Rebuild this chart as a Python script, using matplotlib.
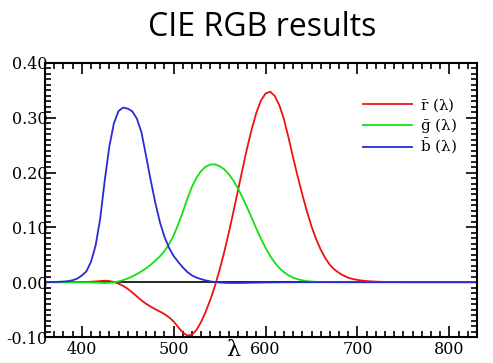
import numpy as np
import matplotlib
matplotlib.use('Agg')
import matplotlib.pyplot as plt
from matplotlib.ticker import MultipleLocator, FormatStrFormatter

# CIE 1931 RGB colour matching functions (5 nm steps)
wavelength = [360, 365, 370, 375,
              380, 385, 390, 395, 400, 405, 410, 415, 420, 425, 430, 435,
              440, 445, 450, 455, 460, 465, 470, 475, 480, 485, 490, 495,
              500, 505, 510, 515, 520, 525, 530, 535, 540, 545, 550, 555,
              560, 565, 570, 575, 580, 585, 590, 595, 600, 605, 610, 615,
              620, 625, 630, 635, 640, 645, 650, 655, 660, 665, 670, 675,
              680, 685, 690, 695, 700, 705, 710, 715, 720, 725, 730, 735,
              740, 745, 750, 760, 770, 780, 800, 830]
r_bar = [0.0, 0.0, 0.00001, 0.00002,
         0.00003, 0.00005, 0.00010, 0.00017, 0.00030, 0.00047, 0.00084, 0.00139,
         0.00211, 0.00266, 0.00218, 0.00036, -0.00261, -0.00673, -0.01213, -0.01874,
         -0.02608, -0.03324, -0.03933, -0.04471, -0.04939, -0.05364, -0.05814, -0.06414,
         -0.07173, -0.08220, -0.09201, -0.09756, -0.09564, -0.08673, -0.07201, -0.05316,
         -0.03152, -0.00613, 0.02279, 0.05514, 0.09060, 0.12840, 0.16768, 0.20715,
         0.24526, 0.27989, 0.30928, 0.33184, 0.34429, 0.34756, 0.33971, 0.32265,
         0.29708, 0.26348, 0.22677, 0.19233, 0.15968, 0.12905, 0.10167, 0.07857,
         0.05932, 0.04366, 0.03149, 0.02294, 0.01687, 0.01187, 0.00819, 0.00572,
         0.00410, 0.00291, 0.00210, 0.00148, 0.00105, 0.00074, 0.00052, 0.00036,
         0.00025, 0.00017, 0.00012, 0.00006, 0.00003, 0.0, 0.0, 0.0]
g_bar = [0.0, 0.0, 0.0, -0.00001,
         -0.00001, -0.00002, -0.00004, -0.00007, -0.00014, -0.00022, -0.00041, -0.00070,
         -0.00110, -0.00143, -0.00119, -0.00021, 0.00149, 0.00379, 0.00678, 0.01046,
         0.01485, 0.01977, 0.02538, 0.03183, 0.03914, 0.04713, 0.05689, 0.06948,
         0.08536, 0.10593, 0.12860, 0.15262, 0.17468, 0.19113, 0.20317, 0.21083,
         0.21466, 0.21487, 0.21178, 0.20588, 0.19702, 0.18522, 0.17087, 0.15429,
         0.13610, 0.11686, 0.09754, 0.07909, 0.06246, 0.04776, 0.03557, 0.02583,
         0.01828, 0.01253, 0.00833, 0.00537, 0.00334, 0.00199, 0.00116, 0.00066,
         0.00037, 0.00021, 0.00011, 0.00006, 0.00003, 0.00001, 0.00001, 0.0,
         0.0, 0.0, 0.0, 0.0, 0.0, 0.0, 0.0, 0.0,
         0.0, 0.0, 0.0, 0.0, 0.0, 0.0, 0.0, 0.0]
b_bar = [0.00010, 0.00020, 0.00040, 0.00070,
         0.00117, 0.00189, 0.00359, 0.00647, 0.01214, 0.01969, 0.03707, 0.06637,
         0.11541, 0.18575, 0.24769, 0.29012, 0.31228, 0.31860, 0.31670, 0.31166,
         0.29821, 0.27295, 0.22991, 0.18592, 0.14494, 0.10968, 0.08257, 0.06246,
         0.04776, 0.03688, 0.02698, 0.01842, 0.01221, 0.00830, 0.00549, 0.00320,
         0.00146, 0.00023, -0.00058, -0.00105, -0.00130, -0.00138, -0.00135, -0.00123,
         -0.00108, -0.00093, -0.00079, -0.00063, -0.00049, -0.00038, -0.00030, -0.00022,
         -0.00015, -0.00011, -0.00008, -0.00005, -0.00003, -0.00002, -0.00001, -0.00001,
         0.0, 0.0, 0.0, 0.0, 0.0, 0.0, 0.0, 0.0,
         0.0, 0.0, 0.0, 0.0, 0.0, 0.0, 0.0, 0.0,
         0.0, 0.0, 0.0, 0.0, 0.0, 0.0, 0.0, 0.0]
labels = [r'$\bar{\mathrm{r}}$ (λ)', r'$\bar{\mathrm{g}}$ (λ)', r'$\bar{\mathrm{b}}$ (λ)']
colors = ['#ee1111', '#11e011', '#2a2ad0']

plt.rcParams['mathtext.fontset'] = 'dejavuserif'
plt.rcParams['font.family'] = 'DejaVu Serif'

fig = plt.figure(figsize=(4.93, 3.63), dpi=100)
ax = fig.add_axes([0.0913, 0.0716, 0.8762, 0.755])

ax.axhline(0, color='k', lw=1.2, zorder=1)
for y, c, lab in zip([r_bar, g_bar, b_bar], colors, labels):
    ax.plot(wavelength, y, color=c, lw=1.3, label=lab)

ax.set_xlim(360, 830)
ax.set_ylim(-0.10, 0.40)
ax.xaxis.set_major_locator(MultipleLocator(100))
ax.xaxis.set_minor_locator(MultipleLocator(10))
ax.yaxis.set_major_locator(MultipleLocator(0.1))
ax.yaxis.set_minor_locator(MultipleLocator(0.01))
ax.yaxis.set_major_formatter(FormatStrFormatter('%.2f'))
ax.tick_params(which='both', direction='in', top=True, right=True, width=1.2, labelsize=11.5)
ax.tick_params(which='major', length=8)
ax.tick_params(which='minor', length=4)
ax.tick_params(axis='y', pad=-2)
ax.tick_params(axis='x', pad=3)
for spi in ['top', 'bottom', 'left', 'right']:
    ax.spines[spi].set_linewidth(1.5)

ax.text(0.435, -0.048, 'λ', transform=ax.transAxes, fontsize=16, ha='center', va='center')

ax.legend(loc='upper right', bbox_to_anchor=(0.985, 0.93), frameon=False, fontsize=11,
          handlelength=3.2, handletextpad=0.5, labelspacing=0.15)

fig.text(0.532, 0.925, 'CIE RGB results', fontsize=23, ha='center', va='center',
         family='Open Sans')

fig.savefig('out.png', dpi=100)
